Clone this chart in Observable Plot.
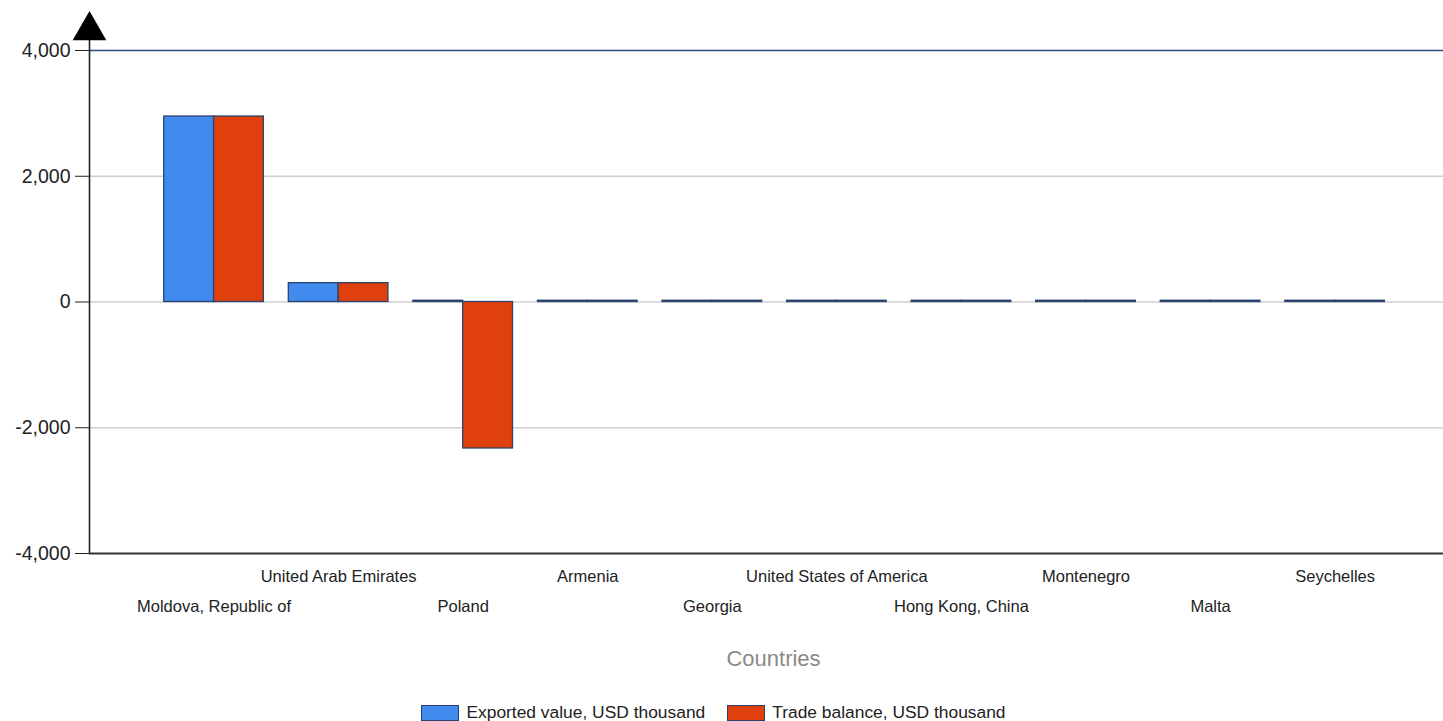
<!DOCTYPE html>
<html>
<head>
<meta charset="utf-8">
<script src="https://cdn.jsdelivr.net/npm/d3@7"></script>
<script src="https://cdn.jsdelivr.net/npm/@observablehq/plot@0.6"></script>
<style>
  html, body { margin: 0; padding: 0; background: #fff; }
  body { width: 1443px; height: 721px; overflow: hidden; font-family: "Liberation Sans", Arial, sans-serif; }
  #legend { display: flex; justify-content: center; align-items: center; gap: 0; margin-top: 2px; font-size: 17.4px; color: #222; position: relative; left: -8px; }
  .item { display: flex; align-items: center; margin: 0 11px; }
  .sw { width: 36px; height: 14px; border: 1px solid #2c4370; margin-right: 7px; }
</style>
</head>
<body>
<div id="chart"></div>
<div id="legend"></div>
<script>
const countries = ["Moldova, Republic of", "United Arab Emirates", "Poland", "Armenia", "Georgia",
  "United States of America", "Hong Kong, China", "Montenegro", "Malta", "Seychelles"];
const exported = [2950, 300, 20, 20, 20, 20, 20, 20, 20, 20];
const tradeBalance = [2950, 300, -2330, 20, 20, 20, 20, 20, 20, 20];
const seriesNames = ["Exported value, USD thousand", "Trade balance, USD thousand"];
const seriesColors = ["#418bee", "#e0400b"];
const yTicks = [-4000, -2000, 0, 2000, 4000];

const xDomain = [-1, 9.87];
const halfGroup = 0.4;

const data = [];
countries.forEach((c, i) => {
  data.push({country: c, i, series: seriesNames[0], value: exported[i], x1: i - halfGroup, x2: i});
  data.push({country: c, i, series: seriesNames[1], value: tradeBalance[i], x1: i, x2: i + halfGroup});
});

const idx = countries.map((_, i) => i);
const topRow = idx.filter(i => i % 2 === 1);
const bottomRow = idx.filter(i => i % 2 === 0);
const fmt = d3.format(",");
const yFormat = v => fmt(v).replace("\u2212", "-");

const H = 700;
const chart = Plot.plot({
  width: 1443,
  height: H,
  marginLeft: 89,
  marginRight: 0,
  marginTop: 50,
  marginBottom: H - 553,
  style: {fontFamily: '"Liberation Sans", Arial, sans-serif', background: "#fff", overflow: "visible"},
  x: {domain: xDomain, axis: null},
  y: {domain: [-4000, 4000], axis: null},
  color: {domain: seriesNames, range: seriesColors},
  marks: [
    Plot.ruleY(yTicks.filter(t => t > -4000 && t < 4000), {stroke: "#cfcfcf", strokeWidth: 1.5}),
    Plot.ruleY([4000], {stroke: "#2c4a7d", strokeWidth: 1.3}),
    Plot.rectY(data, {x1: "x1", x2: "x2", y: "value", fill: "series", stroke: "#2c4370", strokeWidth: 1.3}),
    Plot.ruleY([-4000], {stroke: "#333", strokeWidth: 2.2}),
    Plot.ruleX([xDomain[0]], {y1: -4000, y2: 4200, stroke: "#222", strokeWidth: 1.6}),
    Plot.dot([0], {frameAnchor: "top-left", dy: -20, symbol: "triangle", r: 12.5, fill: "#000", stroke: null}),
    Plot.axisY({ticks: yTicks, tickFormat: yFormat, tickSize: 14, tickPadding: 5, fontSize: 19.5, stroke: "#222", color: "#222", label: null}),
    Plot.axisX({ticks: topRow, tickFormat: i => countries[i], tickSize: 0, tickPadding: 17, fontSize: 16.5, color: "#222", label: null}),
    Plot.axisX({ticks: bottomRow, tickFormat: i => countries[i], tickSize: 0, tickPadding: 47, fontSize: 16.5, color: "#222", label: null}),
    Plot.text(["Countries"], {frameAnchor: "bottom", dy: 105, dx: 7, fontSize: 22, fill: "#8a8a8a", lineAnchor: "middle"})
  ]
});
document.getElementById("chart").appendChild(chart);

const legend = document.getElementById("legend");
seriesNames.forEach((n, k) => {
  const it = document.createElement("div");
  it.className = "item";
  const sw = document.createElement("div");
  sw.className = "sw";
  sw.style.background = seriesColors[k];
  const t = document.createElement("span");
  t.textContent = n;
  it.appendChild(sw); it.appendChild(t);
  legend.appendChild(it);
});
</script>
</body>
</html>
